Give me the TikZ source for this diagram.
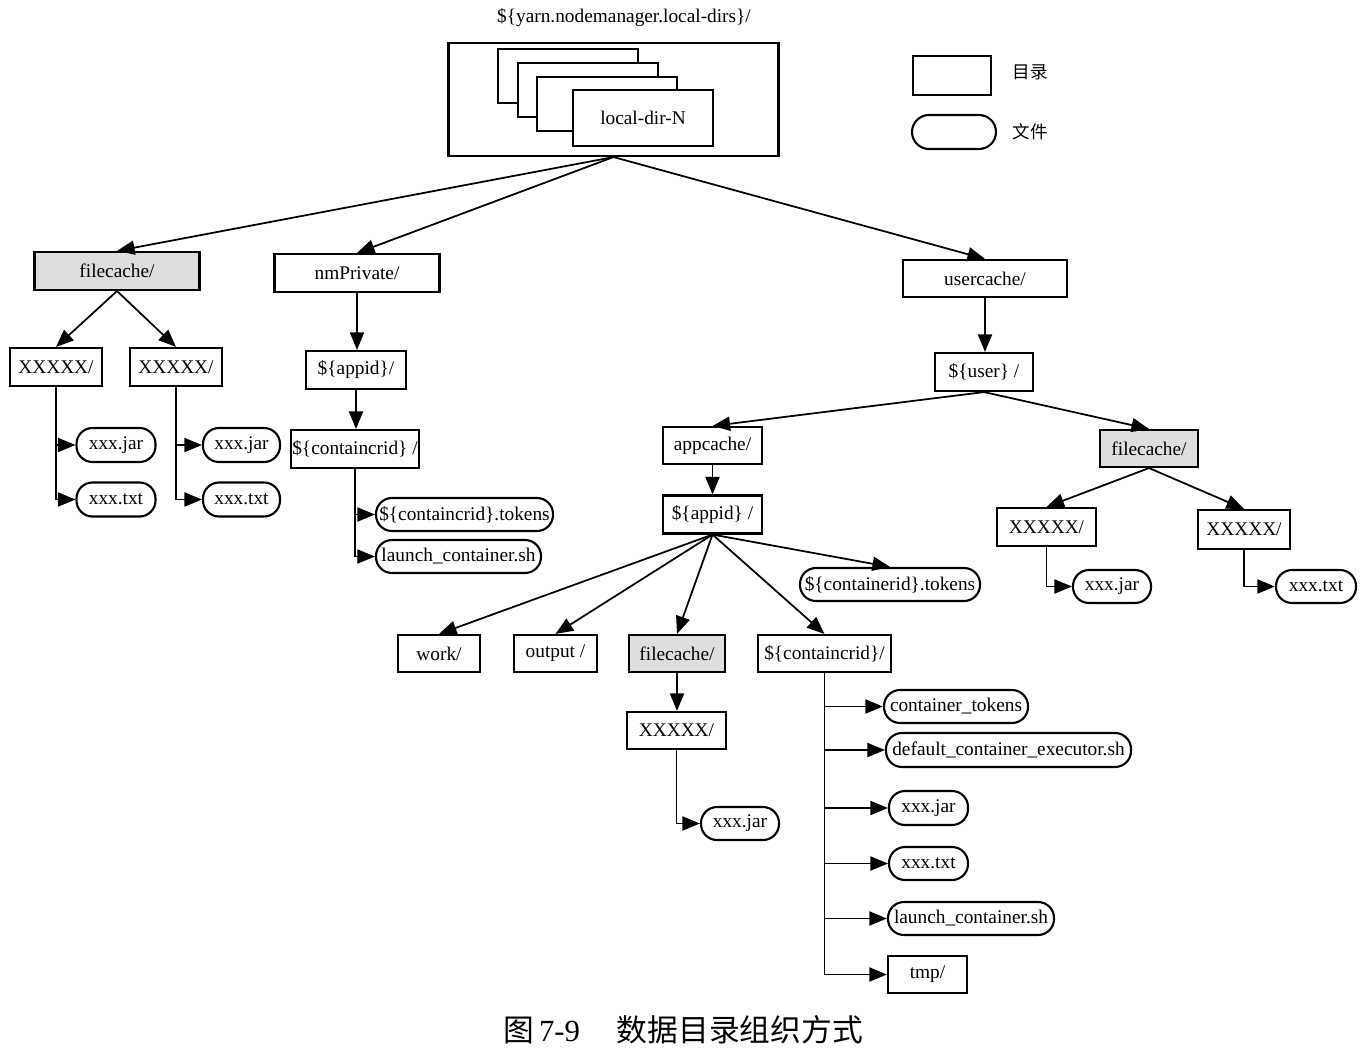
\documentclass[tikz,border=0pt]{standalone}
\usepackage{fontspec}
\setmainfont{Liberation Serif}
\newfontfamily\cjk{Noto Sans CJK SC}
\usetikzlibrary{arrows.meta}
\begin{document}
\begin{tikzpicture}[x=0.02cm,y=-0.02cm,
  wh/.style 2 args={minimum width=#1*0.02cm,minimum height=#2*0.02cm},
  dirbox/.style={draw,line width=1.2pt,fill=white,inner sep=0pt,font=\fontsize{11pt}{13pt}\selectfont},
  graybox/.style={dirbox,fill=black!13},
  filebox/.style={draw,line width=1.2pt,fill=white,inner sep=0pt,rounded corners=0.32cm,font=\fontsize{11pt}{13pt}\selectfont},
  arr/.style={draw,line width=1pt,-{Triangle[length=10pt,width=8pt]}},
  lin/.style={draw,line width=1pt}]
\useasboundingbox (0,0) rectangle (1368,1064);
\fill[white] (0,0) rectangle (1368,1064);

% top
\node[font=\fontsize{11pt}{13pt}\selectfont] (title) at (624,18) {\$\{yarn.nodemanager.local-dirs\}/};
\node[dirbox,wh={330}{113}] (top) at (613.5,99.5) {};
\node[dirbox,wh={140}{54}] (r1) at (568,76) {};
\node[dirbox,wh={140}{54}] (r2) at (588,90) {};
\node[dirbox,wh={140}{54}] (r3) at (607,104) {};
\node[dirbox,wh={140}{56}] (r4) at (643,118) {local-dir-N};

% legend
\node[dirbox,wh={78}{39}] (legdir) at (952,75.5) {};
\node[font=\cjk\fontsize{10pt}{12pt}\selectfont] (legdirt) at (1030,72) {目录};
\node[filebox,wh={84}{34},rounded corners=0.34cm] (legfile) at (954,132) {};
\node[font=\cjk\fontsize{10pt}{12pt}\selectfont] (legfilet) at (1030,132) {文件};

% level 1
\node[graybox,wh={165}{38}] (fc1) at (117,271) {filecache/};
\node[dirbox,wh={165}{38}] (nmp) at (357,273) {nmPrivate/};
\node[dirbox,wh={164}{37}] (uc) at (985,278.5) {usercache/};

% left filecache
\node[dirbox,wh={92}{38}] (x1) at (56,367) {XXXXX/};
\node[dirbox,wh={92}{38}] (x2) at (176,367) {XXXXX/};
\node[filebox,wh={79}{34}] (j1) at (116,445) {xxx.jar};
\node[filebox,wh={79}{34}] (t1) at (116,499.5) {xxx.txt};
\node[filebox,wh={77}{34}] (j2) at (241.5,445) {xxx.jar};
\node[filebox,wh={77}{34}] (t2) at (241.5,499.5) {xxx.txt};

% nmPrivate
\node[dirbox,wh={100}{38}] (ap1) at (356,370) {\$\{appid\}/};
\node[dirbox,wh={128}{38}] (cc1) at (355,449) {\$\{containcrid\} /};
\node[filebox,wh={177}{33}] (tk1) at (464.5,514.5) {\$\{containcrid\}.tokens};
\node[filebox,wh={165}{33}] (ln1) at (458.5,556.5) {launch\_container.sh};

% usercache
\node[dirbox,wh={98}{38}] (us) at (984,372) {\$\{user\} /};
\node[dirbox,wh={99}{37}] (ac) at (712.5,445.5) {appcache/};
\node[graybox,wh={98}{37}] (fc2) at (1149,448.5) {filecache/};
\node[dirbox,wh={99}{38}] (ap2) at (712.5,514.5) {\$\{appid\} /};
\node[filebox,wh={180}{33}] (tk2) at (890,584.5) {\$\{containerid\}.tokens};

\node[dirbox,wh={99}{38}] (x3) at (1046.5,527) {XXXXX/};
\node[dirbox,wh={92}{39}] (x4) at (1244,529.5) {XXXXX/};
\node[filebox,wh={78}{33}] (j3) at (1112,586.5) {xxx.jar};
\node[filebox,wh={80}{33}] (t3) at (1316,586.5) {xxx.txt};

\node[dirbox,wh={82}{37}] (wk) at (439,653.5) {work/};
\node[dirbox,wh={83}{37}] (op) at (555.5,653.5) {output /};
\node[graybox,wh={96}{37}] (fc3) at (677,653.5) {filecache/};
\node[dirbox,wh={133}{37}] (cc2) at (824.5,653.5) {\$\{containcrid\}/};

\node[dirbox,wh={99}{37}] (x5) at (676.5,730.5) {XXXXX/};
\node[filebox,wh={78}{33}] (j4) at (740,823.5) {xxx.jar};

\node[filebox,wh={144}{33}] (ct) at (956,706.5) {container\_tokens};
\node[filebox,wh={245}{34}] (de) at (1008.5,750) {default\_container\_executor.sh};
\node[filebox,wh={79}{34}] (j5) at (928.5,808) {xxx.jar};
\node[filebox,wh={79}{33}] (t5) at (928.5,863.5) {xxx.txt};
\node[filebox,wh={166}{33}] (ln2) at (971,918.5) {launch\_container.sh};
\node[dirbox,wh={79}{37}] (tm) at (927.5,974.5) {tmp/};

% caption
\node[font=\fontsize{17.5pt}{20pt}\selectfont,anchor=west] (cap) at (497,1030) {{\cjk 图}\,7-9\hspace{21pt}{\cjk 数据目录组织方式}};

% connectors
\draw[arr] (top.south) -- (fc1.north);
\draw[arr] (top.south) -- (nmp.north);
\draw[arr] (top.south) -- (uc.north);

\draw[arr] (fc1.south) -- (x1.north);
\draw[arr] (fc1.south) -- (x2.north);
\draw[arr] (x1.south) |- (j1.west);
\draw[arr] (x1.south) |- (t1.west);
\draw[arr] (x2.south) |- (j2.west);
\draw[arr] (x2.south) |- (t2.west);

\draw[arr] (nmp.south) -- (nmp.south |- ap1.north);
\draw[arr] (ap1.south) -- (ap1.south |- cc1.north);
\draw[arr] (cc1.south) |- (tk1.west);
\draw[arr] (cc1.south) |- (ln1.west);

\draw[arr] (uc.south) -- (uc.south |- us.north);
\draw[arr] (us.south) -- (ac.north);
\draw[arr] (us.south) -- (fc2.north);
\draw[arr] (ac.south) -- (ap2.north);

\draw[arr] (ap2.south) -- (wk.north);
\draw[arr] (ap2.south) -- (op.north);
\draw[arr] (ap2.south) -- (fc3.north);
\draw[arr] (ap2.south) -- (cc2.north);
\draw[arr] (ap2.south) -- (tk2.north);

\draw[arr] (fc3.south) -- (fc3.south |- x5.north);
\draw[arr] (x5.south) |- (j4.west);

\draw[arr] (cc2.south) |- (ct.west);
\draw[arr] (cc2.south) |- (de.west);
\draw[arr] (cc2.south) |- (j5.west);
\draw[arr] (cc2.south) |- (t5.west);
\draw[arr] (cc2.south) |- (ln2.west);
\draw[arr] (cc2.south) |- (tm.west);

\draw[arr] (fc2.south) -- (x3.north);
\draw[arr] (fc2.south) -- (x4.north);
\draw[arr] (x3.south) |- (j3.west);
\draw[arr] (x4.south) |- (t3.west);
\end{tikzpicture}
\end{document}
